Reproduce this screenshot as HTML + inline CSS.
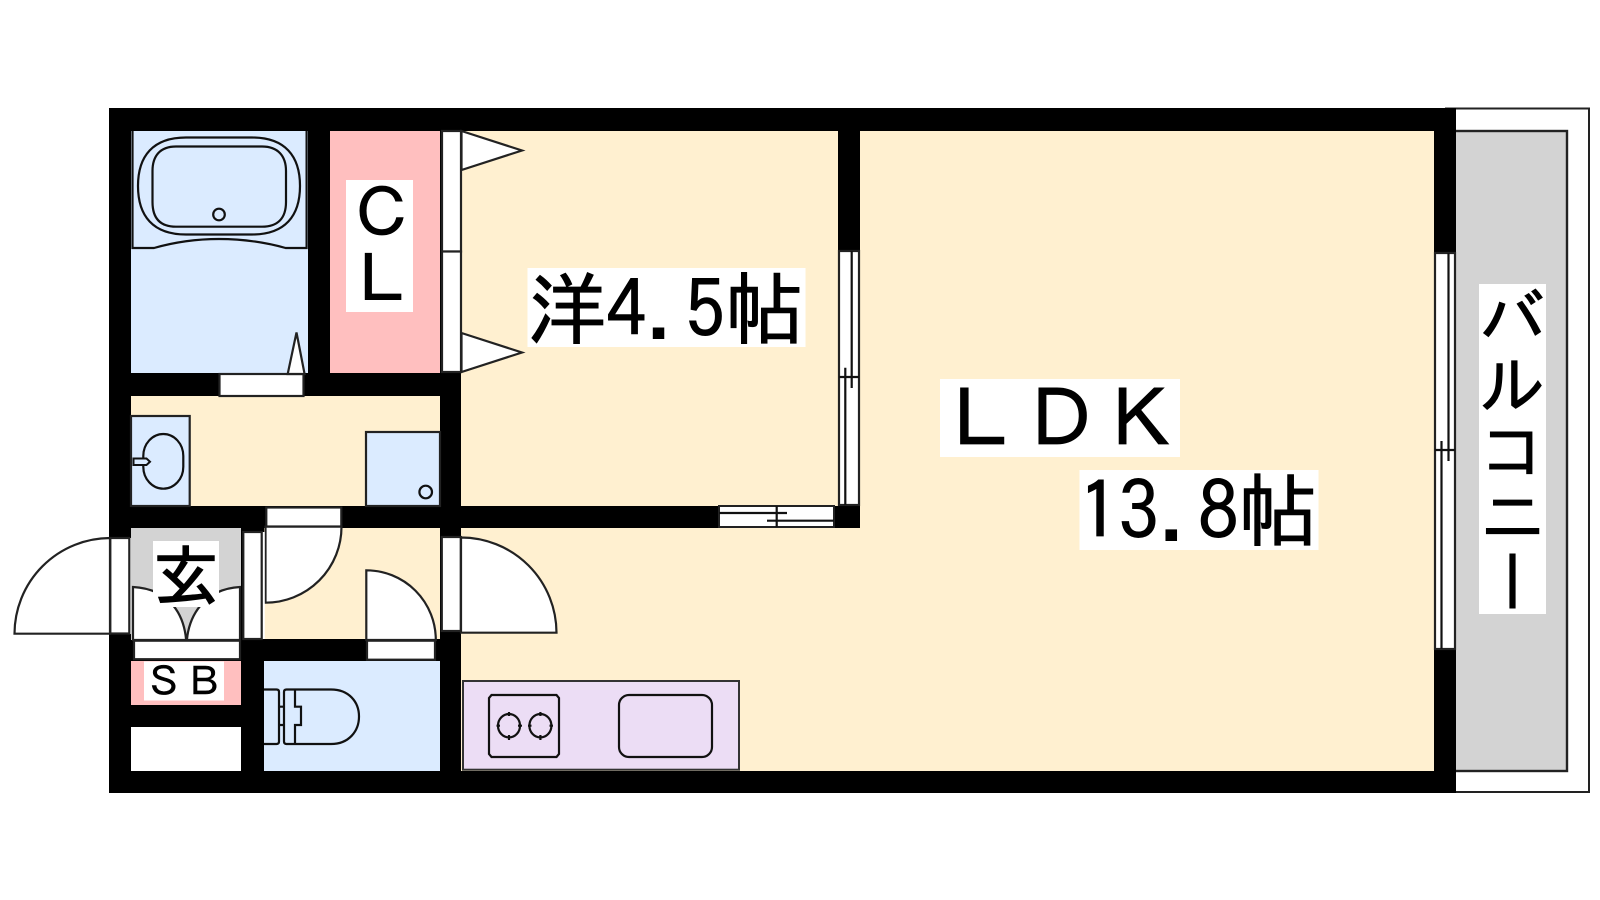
<!DOCTYPE html>
<html><head><meta charset="utf-8"><style>
html,body{margin:0;padding:0;background:#fff;width:1600px;height:900px;overflow:hidden}
svg{display:block}
text{font-family:"IPAGothic","Noto Sans CJK JP",sans-serif;fill:#000;stroke:#000;stroke-width:.9}
.l{stroke:#111;stroke-width:2.2;fill:none}
.w{stroke:#222;stroke-width:2.2;fill:#fff}
.b{stroke:#222;stroke-width:2.2;fill:#dbebff}
</style></head><body>
<svg width="1600" height="900" viewBox="0 0 1600 900" xmlns="http://www.w3.org/2000/svg">
<rect width="1600" height="900" fill="#fff"/>
<!-- balcony -->
<path d="M1445 108.500H1589V792H1445" fill="#fff" stroke="#222" stroke-width="2"/>
<rect x="1450" y="131" width="117" height="640" fill="#d3d3d3" stroke="#222" stroke-width="2.400"/>
<!-- walls -->
<rect x="109" y="108" width="1347" height="685" fill="#000"/>
<!-- rooms -->
<rect x="131" y="131" width="177" height="242" fill="#dbebff"/>
<rect x="330" y="131" width="110" height="242" fill="#ffbfbf"/>
<rect x="461" y="131" width="377" height="375" fill="#fff0d0"/>
<rect x="860" y="131" width="574" height="640" fill="#fff0d0"/>
<rect x="461" y="528" width="399" height="243" fill="#fff0d0"/>
<rect x="131" y="396" width="309" height="110" fill="#fff0d0"/>
<rect x="264" y="528" width="176" height="111" fill="#fff0d0"/>
<rect x="131" y="528" width="110" height="112" fill="#d3d3d3"/>
<rect x="131" y="661" width="110" height="44" fill="#ffbfbf"/>
<rect x="131" y="727" width="110" height="44" fill="#fff"/>
<rect x="264" y="661" width="176" height="110" fill="#dbebff"/>
<!-- bathtub -->
<path class="l" d="M132.500 131V248H154C175 242 195 239 219 239C243 239 264 242 285.600 248H306.600V131"/>
<path class="l" d="M186 137.500H252C285 137.500 300 156 300 186C300 216 285 234.500 252 234.500H186C153 234.500 138 216 138 186C138 156 153 137.500 186 137.500Z"/>
<path class="l" d="M176 146.500H262C278 146.500 286 156 286 171V202C286 218 278 226.700 262 226.700H176C160 226.700 152.500 218 152.500 202V171C152.500 156 160 146.500 176 146.500Z"/>
<circle class="l" cx="219" cy="214.500" r="5.800"/>
<!-- bath door -->
<rect class="w" x="219.500" y="374" width="84" height="22"/>
<path class="w" d="M287.700 374L296.500 332.500L304.600 374Z"/>
<!-- closet folding doors -->
<rect class="w" x="442" y="131" width="19" height="120.500"/>
<rect class="w" x="442" y="251.500" width="19" height="120.500"/>
<path class="w" d="M461.500 131L522 150.500L461.500 170Z"/>
<path class="w" d="M461.500 333L522 352.500L461.500 372Z"/>
<!-- lavatory -->
<rect class="b" x="131" y="416" width="58.700" height="90"/>
<rect class="l" x="143.300" y="434" width="40" height="54.700" rx="20" ry="22"/>
<path d="M133.500 458.500H146.500L150 461.700L146.500 465H133.500Z" fill="#dbebff" stroke="#111" stroke-width="2"/>
<!-- washer -->
<rect class="b" x="366" y="432" width="74" height="74"/>
<circle class="l" cx="425.700" cy="492" r="6.300"/>
<!-- hall door -->
<rect class="w" x="266.300" y="507.500" width="75" height="19"/>
<path class="w" d="M265.500 526.700H341.500A76 76 0 0 1 265.500 602.700Z"/>
<!-- toilet door -->
<path class="w" d="M366.300 640V570.300A69.500 69.500 0 0 1 435.800 640Z"/>
<rect class="w" x="367" y="640.700" width="68" height="19"/>
<!-- entrance door -->
<rect x="109" y="538" width="22" height="96" fill="#fff"/>
<rect class="w" x="110.300" y="538" width="19" height="95.500"/>
<path class="w" d="M110 538A96 96 0 0 0 14.500 633.700H110Z"/>
<!-- LDK door -->
<rect class="w" x="441.800" y="537" width="19" height="94"/>
<path class="w" d="M461 537.500A95.500 95.500 0 0 1 556.500 632.700H461Z"/>
<!-- strip next to genkan -->
<rect class="w" x="243.300" y="532" width="18.400" height="107"/>
<rect x="262.800" y="532" width="2" height="107" fill="#fff"/>
<!-- genkan shoe -->
<path class="w" d="M133 587C170 589 186 615 186.500 647C187 615 205 589 240 587V640H133Z"/>
<rect class="w" x="134" y="640.700" width="106" height="18.500"/>
<!-- kitchen -->
<rect x="463" y="681" width="276" height="88.700" fill="#ecddf5" stroke="#333" stroke-width="2"/>
<path class="l" d="M491.500 695H556.500L559 698V754L556.500 757H491.500L489 754V698Z"/>
<ellipse class="l" cx="509" cy="725.700" rx="11" ry="11.700"/>
<ellipse class="l" cx="540.400" cy="725.700" rx="11" ry="11.700"/>
<path class="l" d="M509 712V716M509 735V740M496.500 725.700H500M518 725.700H522M540.400 712V716M540.400 735V740M528 725.700H531.500M549.500 725.700H553"/>
<rect class="l" x="619" y="695" width="93" height="62" rx="10"/>
<!-- toilet -->
<path class="l" d="M264 689.500H276.500Q279 689.500 279 692V741.500Q279 744 276.500 744H264"/>
<path class="l" d="M279 706.700H284M279 725H284"/>
<path class="l" d="M286.500 689.500H331C349 689.500 359 702 359 716.500C359 731 349 744 331 744H286.500Q284 744 284 741.500V692Q284 689.500 286.500 689.500Z"/>
<path class="l" d="M295 689.500V706.700H301V725H295V744"/>
<!-- window inner -->
<rect class="w" x="839" y="251" width="20" height="254"/>
<path class="l" d="M839 377H859M851.700 251V388M845.300 367.700V505"/>
<rect x="719" y="506" width="115" height="21" fill="#fff" stroke="#222" stroke-width="2"/>
<path class="l" d="M719 513H787M767 520.700H834M776.700 506V527"/>
<!-- window right -->
<rect class="w" x="1435" y="253" width="20" height="396"/>
<path class="l" d="M1435 450H1455M1448.500 253V461M1441.500 441V649"/>
<!-- labels -->
<rect x="346" y="180" width="67" height="132" fill="#fff"/>
<text x="349" y="237" font-size="66">Ｃ</text>
<text x="349" y="303" font-size="66">Ｌ</text>
<rect x="527.500" y="268" width="278" height="79" fill="#fff"/>
<text x="527.500" y="338" font-size="79">洋4.5帖</text>
<rect x="940" y="379" width="240" height="78" fill="#fff"/>
<text x="941" y="448" font-size="80">ＬＤＫ</text>
<rect x="1079.500" y="470" width="239" height="80" fill="#fff"/>
<text x="1079" y="540" font-size="79.600">13.8帖</text>
<rect x="144" y="661.500" width="80" height="39" fill="#fff"/>
<text x="144" y="696" font-size="40" style="stroke-width:.5">ＳＢ</text>
<rect x="153" y="541" width="66" height="66" fill="#fff"/>
<text x="153" y="600" font-size="66" style="stroke-width:1.400">玄</text>
<rect x="1479" y="284" width="67" height="330" fill="#fff"/>
<text x="1512.500" y="284" font-size="66" writing-mode="vertical-rl" style="writing-mode:vertical-rl">バルコニー</text>
</svg>
</body></html>
